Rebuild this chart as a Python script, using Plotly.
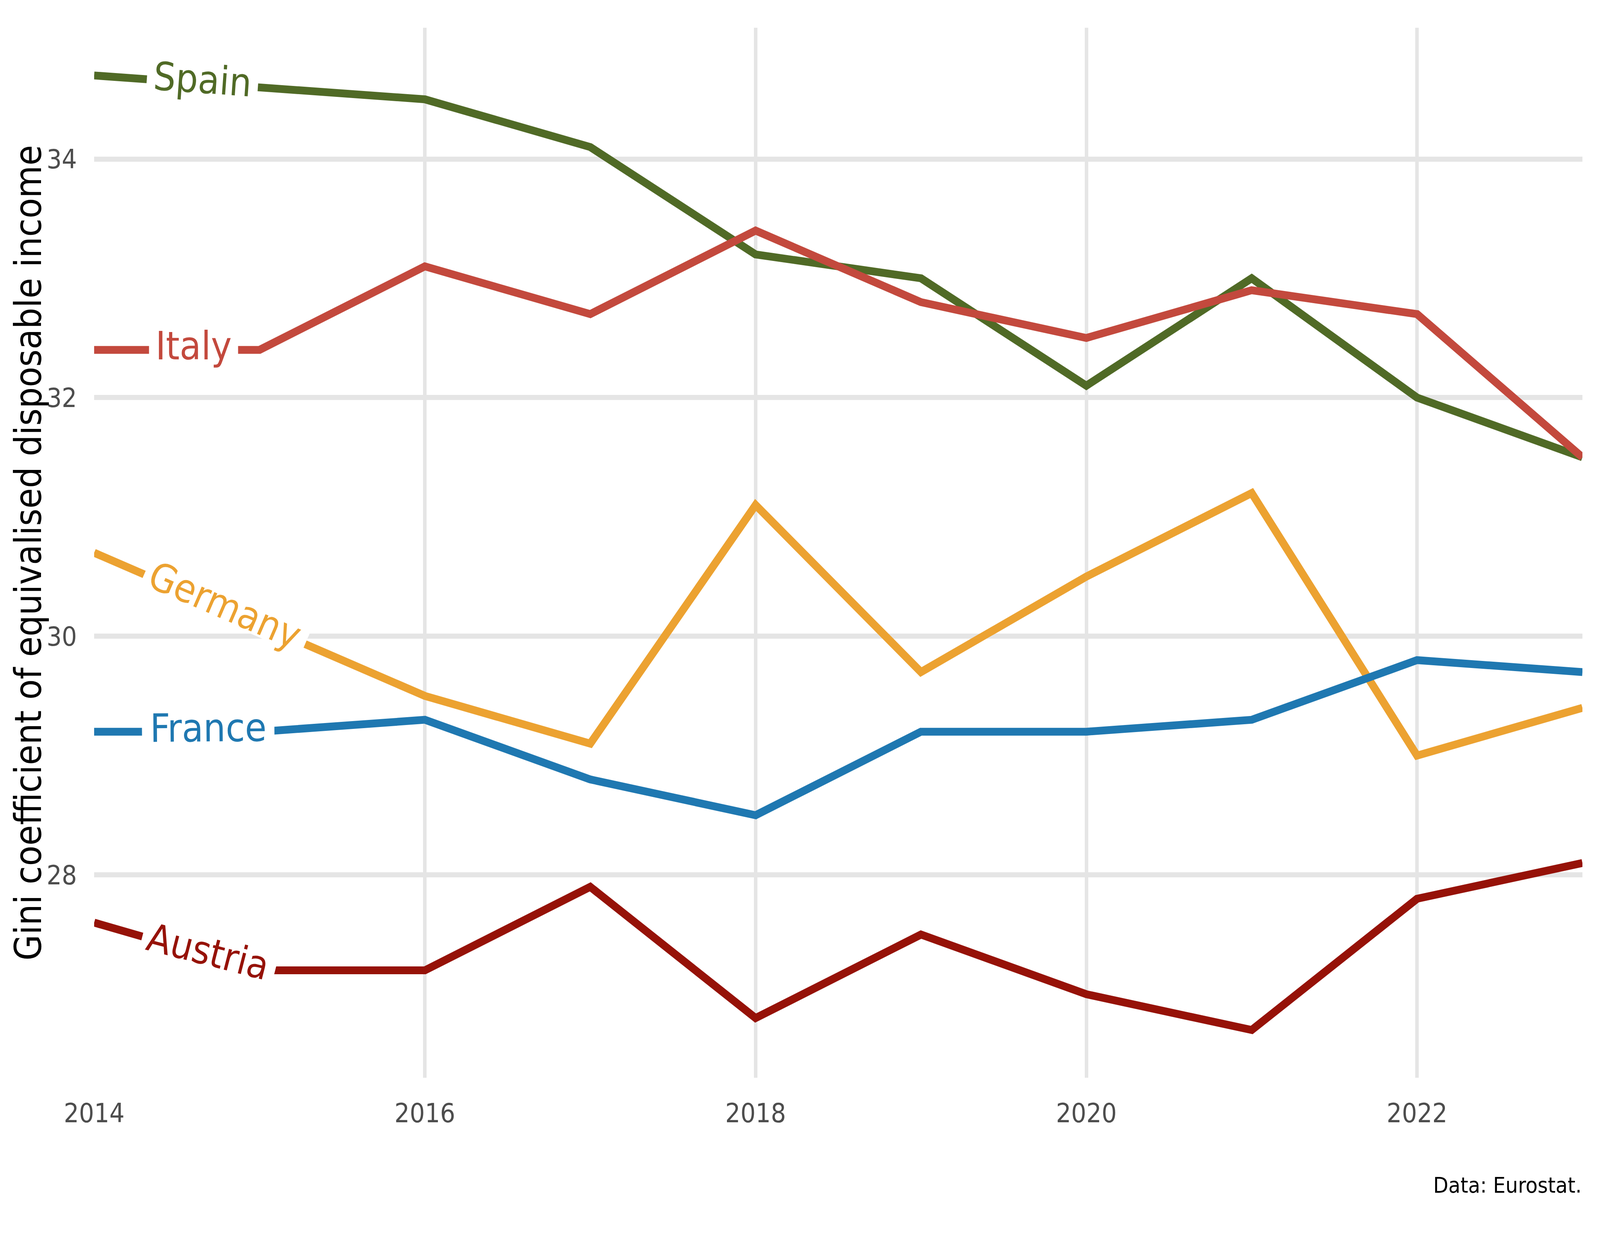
import math
import numpy as np
import plotly.graph_objects as go

# ---- data ----
years = [2014, 2015, 2016, 2017, 2018, 2019, 2020, 2021, 2022, 2023]
spain = [34.7, 34.6, 34.5, 34.1, 33.2, 33.0, 32.1, 33.0, 32.0, 31.5]
italy = [32.4, 32.4, 33.1, 32.7, 33.4, 32.8, 32.5, 32.9, 32.7, 31.5]
germany = [30.7, 30.1, 29.5, 29.1, 31.1, 29.7, 30.5, 31.2, 29.0, 29.4]
france = [29.2, 29.2, 29.3, 28.8, 28.5, 29.2, 29.2, 29.3, 29.8, 29.7]
austria = [27.6, 27.2, 27.2, 27.9, 26.8, 27.5, 27.0, 26.7, 27.8, 28.1]

countries = ["Spain", "Italy", "Germany", "France", "Austria"]
series = {"Spain": spain, "Italy": italy, "Germany": germany,
          "France": france, "Austria": austria}

x_ticks = [2014, 2016, 2018, 2020, 2022]
y_ticks = [28, 30, 32, 34]
y_title = "Gini coefficient of equivalised disposable income"
caption = "Data: Eurostat."

# ---- styling ----
colors = {"Spain": "#506a26", "Italy": "#c3493d", "Germany": "#eca231",
          "France": "#1f78b1", "Austria": "#961208"}
label_x = {"Spain": 2014.655, "Italy": 2014.60, "Germany": 2014.79,
           "France": 2014.69, "Austria": 2014.69}
# approximate glyph advances (em) of DejaVu Sans Condensed, to size the line gaps
ADV = {"S": .572, "p": .572, "a": .552, "i": .250, "n": .571, "I": .266,
       "t": .353, "l": .250, "y": .533, "G": .698, "e": .554, "r": .370,
       "m": .877, "F": .518, "c": .495, "A": .616, "u": .571, "s": .469}

FONT = "DejaVu Sans Condensed, DejaVu Sans, sans-serif"
# the browser window available is 4096 x 3200 CSS px: fill it
W, H = 4096, 3200
ML, MR, MT, MB = 241, 45, 71, 441
XR = [2014, 2023]
YR = [26.3, 35.1]
LW = 20
LABEL_SIZE = 100
GAP_PAD = 16
pw, ph = W - ML - MR, H - MT - MB
px_per_x = pw / (XR[1] - XR[0])
px_per_y = ph / (YR[1] - YR[0])

fig = go.Figure()
for c in countries:
    fig.add_trace(go.Scatter(
        x=years, y=series[c], mode="lines", name=c,
        line=dict(color=colors[c], width=LW), showlegend=False,
        hoverinfo="skip"))

# direct labels set along each line: a thin white band breaks the line,
# the coloured text sits on top of it
for c in countries:
    lx = label_x[c]
    ly = float(np.interp(lx, years, series[c]))
    y1 = float(np.interp(lx - 0.4, years, series[c]))
    y2 = float(np.interp(lx + 0.4, years, series[c]))
    ang = math.degrees(math.atan2((y1 - y2) * px_per_y, 0.8 * px_per_x))
    text_w = sum(ADV.get(ch, 0.55) for ch in c) * LABEL_SIZE
    fig.add_annotation(
        x=lx, y=ly, xref="x", yref="y", text=" ", showarrow=False,
        xanchor="center", yanchor="middle", textangle=ang,
        width=text_w, height=LW + 8,
        bgcolor="white", borderpad=GAP_PAD)
    fig.add_annotation(
        x=lx, y=ly, xref="x", yref="y", text=c, showarrow=False,
        xanchor="center", yanchor="middle", textangle=ang, yshift=10,
        font=dict(family=FONT, size=LABEL_SIZE, color=colors[c]))

# y axis title
fig.add_annotation(
    x=(72 - ML) / pw, y=0.5, xref="paper", yref="paper", text=y_title,
    showarrow=False, textangle=-90, xanchor="center", yanchor="middle",
    font=dict(family=FONT, size=95, color="black"))

# caption
fig.add_annotation(
    x=1, y=(H - MB - 3033) / ph, xref="paper", yref="paper", text=caption,
    showarrow=False, xanchor="right", yanchor="middle",
    font=dict(family=FONT, size=56, color="black"))

fig.update_layout(
    width=W, height=H, autosize=False,
    margin=dict(l=ML, r=MR, t=MT, b=MB, pad=0),
    paper_bgcolor="white", plot_bgcolor="white",
    font=dict(family=FONT),
    xaxis=dict(range=XR, tickvals=x_ticks, ticktext=[str(v) for v in x_ticks],
               showgrid=True, gridcolor="#e5e5e5", gridwidth=9,
               zeroline=False, showline=False, ticks="",
               ticklabelstandoff=45,
               tickfont=dict(family=FONT, size=68, color="#4d4d4d")),
    yaxis=dict(range=YR, tickvals=y_ticks, ticktext=[str(v) for v in y_ticks],
               showgrid=True, gridcolor="#e5e5e5", gridwidth=13,
               zeroline=False, showline=False, ticks="",
               ticklabelstandoff=43,
               tickfont=dict(family=FONT, size=68, color="#4d4d4d")),
)

fig.write_html("out.html", config={"displayModeBar": False},
               post_script="document.body.style.margin='0px';")
